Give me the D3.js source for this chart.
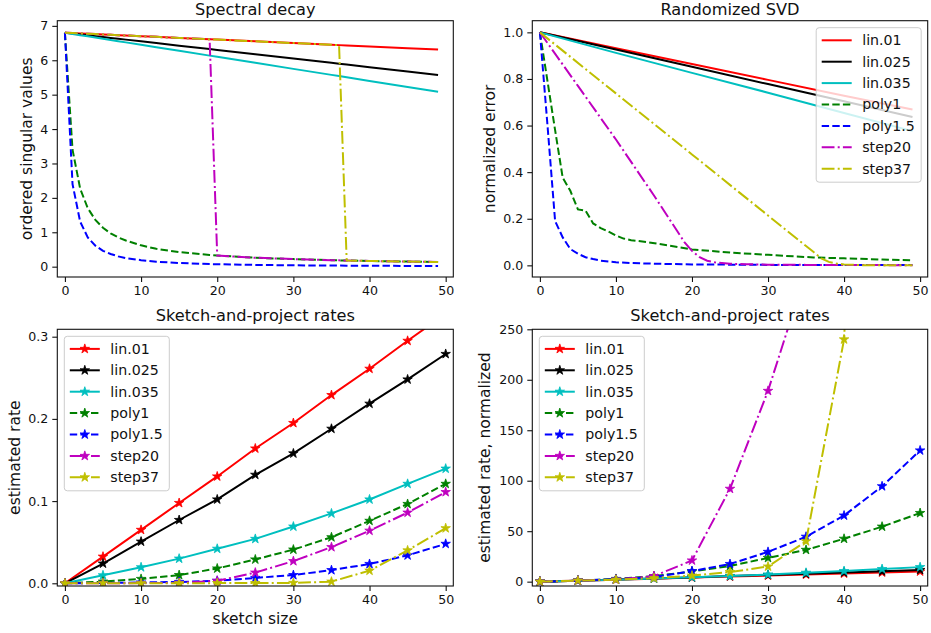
<!DOCTYPE html>
<html>
<head>
<meta charset="utf-8">
<title>Spectral decay / sketch-and-project rates</title>
<script src="https://cdn.jsdelivr.net/npm/d3@7"></script>
<style>
  body { margin: 0; background: #fff; }
  text { font-family: "DejaVu Sans", sans-serif; fill: #111; }
</style>
</head>
<body>
<div id="chart"></div>
<script>

// legend order of the seven spectra
let names = ["lin.01", "lin.025", "lin.035", "poly1", "poly1.5", "step20", "step37"];

// --- Spectral decay: singular values read at these indices
let specIdx    = [0, 1, 2, 3, 4, 5, 6, 7, 8, 10, 12, 15, 19, 20, 25, 30, 35, 36, 37, 40, 45, 49];
let specLin01  = [6.80, 6.79, 6.78, 6.77, 6.76, 6.75, 6.74, 6.73, 6.72, 6.70, 6.68, 6.65, 6.61, 6.60, 6.55, 6.50, 6.45, 6.44, 6.43, 6.40, 6.35, 6.31];
let specLin025 = [6.80, 6.775, 6.75, 6.725, 6.70, 6.675, 6.65, 6.625, 6.60, 6.55, 6.50, 6.425, 6.325, 6.30, 6.175, 6.05, 5.925, 5.90, 5.875, 5.80, 5.675, 5.575];
let specLin035 = [6.80, 6.765, 6.73, 6.695, 6.66, 6.625, 6.59, 6.555, 6.52, 6.45, 6.38, 6.275, 6.135, 6.10, 5.925, 5.75, 5.575, 5.54, 5.505, 5.40, 5.225, 5.085];
let specPoly1  = [6.80, 3.40, 2.27, 1.70, 1.36, 1.13, 0.97, 0.85, 0.76, 0.62, 0.52, 0.425, 0.34, 0.324, 0.26, 0.22, 0.19, 0.184, 0.179, 0.166, 0.148, 0.136];
let specPoly15 = [6.80, 2.40, 1.31, 0.85, 0.61, 0.46, 0.37, 0.30, 0.25, 0.19, 0.145, 0.106, 0.076, 0.071, 0.052, 0.039, 0.032, 0.031, 0.029, 0.026, 0.022, 0.019];
let specStep20 = [6.80, 6.79, 6.78, 6.77, 6.76, 6.75, 6.74, 6.73, 6.72, 6.70, 6.68, 6.65, 6.61, 0.324, 0.26, 0.22, 0.19, 0.184, 0.179, 0.166, 0.148, 0.136];
let specStep37 = [6.80, 6.79, 6.78, 6.77, 6.76, 6.75, 6.74, 6.73, 6.72, 6.70, 6.68, 6.65, 6.61, 6.60, 6.55, 6.50, 6.45, 6.44, 0.179, 0.166, 0.148, 0.136];

// --- Randomized SVD: normalized error
let rsvdLinX    = [0, 10, 20, 30, 40, 49];
let rsvdLin01   = [1.0, 0.932, 0.864, 0.796, 0.728, 0.669];
let rsvdLin025  = [1.0, 0.926, 0.852, 0.778, 0.704, 0.637];
let rsvdLin035  = [1.0, 0.912, 0.826, 0.741, 0.654, 0.576];
let rsvdPoly1X  = [0, 1, 2, 3, 4, 5, 6, 7, 8, 9, 10, 11, 12, 14, 17, 20, 25, 30, 36, 40, 45, 49];
let rsvdPoly1   = [1.0, 0.79, 0.58, 0.376, 0.32, 0.24, 0.235, 0.18, 0.16, 0.145, 0.128, 0.115, 0.108, 0.10, 0.085, 0.068, 0.055, 0.045, 0.034, 0.030, 0.025, 0.022];
let rsvdPoly15X = [0, 1, 2, 3, 4, 5, 6, 7, 8, 10, 12, 15, 20, 25, 30, 40, 49];
let rsvdPoly15  = [1.0, 0.60, 0.19, 0.12, 0.07, 0.05, 0.035, 0.027, 0.02, 0.013, 0.01, 0.007, 0.004, 0.003, 0.002, 0.001, 0.001];
let rsvdStep20X = [0, 5, 10, 15, 19, 20, 21, 22, 23, 25, 27, 30, 35, 40, 45, 49];
let rsvdStep20  = [1.0, 0.77, 0.54, 0.30, 0.10, 0.062, 0.035, 0.02, 0.013, 0.007, 0.005, 0.003, 0.002, 0.001, 0.001, 0.0];
let rsvdStep37X = [0, 10, 20, 30, 35, 36, 37, 38, 39, 40, 42, 45, 49];
let rsvdStep37  = [1.0, 0.738, 0.476, 0.214, 0.083, 0.057, 0.03, 0.015, 0.008, 0.004, 0.001, 0.0, 0.0];

// --- Sketch-and-project rates
let sketchSizes = [0, 5, 10, 15, 20, 25, 30, 35, 40, 45, 50];
let rateLin01   = [0, 0.0324, 0.065, 0.0977, 0.130, 0.164, 0.195, 0.229, 0.261, 0.295, 0.328];
let rateLin025  = [0, 0.024, 0.0507, 0.077, 0.102, 0.132, 0.158, 0.188, 0.2185, 0.248, 0.279];
let rateLin035  = [0, 0.0097, 0.0195, 0.030, 0.042, 0.054, 0.069, 0.085, 0.102, 0.121, 0.1395];
let ratePoly1   = [0, 0.002, 0.0053, 0.010, 0.018, 0.029, 0.041, 0.056, 0.076, 0.0965, 0.121];
let ratePoly15  = [0, 0.0004, 0.001, 0.0016, 0.003, 0.0065, 0.010, 0.016, 0.0235, 0.034, 0.048];
let rateStep20  = [0, 0.0001, 0.0002, 0.0005, 0.003, 0.013, 0.027, 0.044, 0.064, 0.086, 0.111];
let rateStep37  = [0, 0.0001, 0.0001, 0.0001, 0.0002, 0.0003, 0.0005, 0.002, 0.0154, 0.040, 0.067];

// --- same rates, normalized (steps run off the top)
let normLin01   = [0, 1, 2, 3, 4, 5, 6, 7, 8, 9.1, 10.1];
let normLin025  = [0, 1, 2.1, 3.2, 4.2, 5.5, 6.6, 7.8, 9.1, 10.3, 11.6];
let normLin035  = [0, 1, 2, 3.1, 4.3, 5.6, 7.1, 8.8, 10.5, 12.5, 14.4];
let normPoly1   = [0, 1, 2.7, 5.5, 10, 15.5, 23.5, 31.5, 42.5, 54.5, 68];
let normPoly15  = [0, 1, 2.5, 4.5, 10.5, 17.5, 29.5, 44.5, 65.5, 94.5, 130];
let normStep20  = [0, 1, 2, 5.5, 21, 92, 189, 307];
let normStep37  = [0, 1, 2, 3.5, 6, 9.5, 15, 40, 240, 1000];

// matplotlib-like styles
let colors = ["#ff0000", "#000000", "#00bfbf", "#008000", "#0000ff", "#bf00bf", "#bfbf00"];
let dashes = [null, null, null, "7.4,3.2", "7.4,3.2", "12.8,3.2,2,3.2", "12.8,3.2,2,3.2"];

let W = 931, H = 633;
let svg = d3.select("#chart")
    .append("svg")
    .attr("width", W)
    .attr("height", H);

let star = d3.symbol(d3.symbolStar, 28)();

function drawPanel(p) {
    let w = p.x1 - p.x0, h = p.y1 - p.y0;
    let g = svg.append("g").attr("transform", "translate(" + p.x0 + "," + p.y0 + ")");

    let x = d3.scaleLinear().domain([-1, 51]).range([0, w]);
    let y = d3.scaleLinear().domain(p.yDomain).range([h, 0]);

    g.append("clipPath").attr("id", "clip" + p.id)
        .append("rect").attr("width", w).attr("height", h);

    let line = d3.line().x(d => x(d[0])).y(d => y(d[1]));
    let plot = g.append("g").attr("clip-path", "url(#clip" + p.id + ")");

    p.series.forEach(function(s, i) {
        plot.append("path")
            .datum(s)
            .attr("d", line)
            .attr("fill", "none")
            .attr("stroke", colors[i])
            .attr("stroke-width", 2)
            .attr("stroke-dasharray", dashes[i]);
        if (p.markers) {
            plot.selectAll(null)
                .data(s)
                .enter()
                .append("path")
                .attr("d", star)
                .attr("transform", d => "translate(" + x(d[0]) + "," + y(d[1]) + ")")
                .attr("fill", colors[i])
                .attr("stroke", colors[i])
                .attr("stroke-width", 0.8);
        }
    });

    // axes
    let xAxis = d3.axisBottom(x).tickValues([0, 10, 20, 30, 40, 50])
        .tickSize(5).tickPadding(4).tickFormat(d3.format("d"));
    let yAxis = d3.axisLeft(y).tickValues(p.yTicks)
        .tickSize(5).tickPadding(4).tickFormat(p.yFormat);

    [g.append("g").attr("transform", "translate(0," + h + ")").call(xAxis),
     g.append("g").call(yAxis)].forEach(function(a) {
        a.select(".domain").remove();
        a.selectAll("line").attr("stroke", "#111").attr("stroke-width", 1.1);
        a.selectAll("text").attr("font-size", "12.6px").attr("fill", "#111")
            .attr("font-family", "DejaVu Sans, sans-serif");
    });

    g.append("rect")
        .attr("width", w).attr("height", h)
        .attr("fill", "none").attr("stroke", "#111").attr("stroke-width", 1.1);

    // title
    g.append("text")
        .attr("x", w / 2).attr("y", p.titleY - p.y0)
        .attr("text-anchor", "middle")
        .attr("font-size", "16.2px")
        .text(p.title);

    // y label
    let cx = p.ylabX - p.x0, cy = h / 2;
    g.append("text")
        .attr("transform", "rotate(-90," + cx + "," + cy + ")")
        .attr("x", cx).attr("y", cy).attr("dy", "0.35em")
        .attr("text-anchor", "middle")
        .attr("font-size", "15.5px")
        .text(p.ylabel);

    if (p.xlabel) {
        g.append("text")
            .attr("x", w / 2).attr("y", 624 - p.y0)
            .attr("text-anchor", "middle")
            .attr("font-size", "15.5px")
            .text(p.xlabel);
    }

    if (p.legend) {
        let lx = p.legend === "right" ? w - 6.5 - 105 : 7;
        let lg = g.append("g").attr("transform", "translate(" + lx + ",7)");
        lg.append("rect")
            .attr("width", 105).attr("height", 154.5)
            .attr("rx", 3)
            .attr("fill", "#fff").attr("fill-opacity", 0.8)
            .attr("stroke", "#ccc").attr("stroke-width", 1);
        names.forEach(function(n, i) {
            let yy = 12.6 + i * 21.4;
            lg.append("line")
                .attr("x1", 5.5).attr("x2", 35.5)
                .attr("y1", yy).attr("y2", yy)
                .attr("stroke", colors[i]).attr("stroke-width", 2)
                .attr("stroke-dasharray", dashes[i]);
            if (p.markers) {
                lg.append("path").attr("d", star)
                    .attr("transform", "translate(20.5," + yy + ")")
                    .attr("fill", colors[i]).attr("stroke", colors[i]).attr("stroke-width", 0.8);
            }
            lg.append("text")
                .attr("x", 46).attr("y", yy).attr("dy", "0.35em")
                .attr("font-size", "14.2px")
                .text(n);
        });
    }
}

let specSeries = [specLin01, specLin025, specLin035, specPoly1, specPoly15, specStep20, specStep37]
    .map(v => d3.zip(specIdx, v));
let rsvdSeries = [
    d3.zip(rsvdLinX, rsvdLin01), d3.zip(rsvdLinX, rsvdLin025), d3.zip(rsvdLinX, rsvdLin035),
    d3.zip(rsvdPoly1X, rsvdPoly1), d3.zip(rsvdPoly15X, rsvdPoly15),
    d3.zip(rsvdStep20X, rsvdStep20), d3.zip(rsvdStep37X, rsvdStep37)];
let rateSeries = [rateLin01, rateLin025, rateLin035, ratePoly1, ratePoly15, rateStep20, rateStep37]
    .map(v => d3.zip(sketchSizes, v));
let normSeries = [normLin01, normLin025, normLin035, normPoly1, normPoly15, normStep20, normStep37]
    .map(v => d3.zip(sketchSizes, v));

drawPanel({id: 1, x0: 57.3, x1: 453.3, y0: 20.7, y1: 277, yDomain: [-0.3, 7.15],
    yTicks: [0, 1, 2, 3, 4, 5, 6, 7], yFormat: d3.format("d"),
    title: "Spectral decay", titleY: 15.3, ylabel: "ordered singular values", ylabX: 26.7,
    series: specSeries, markers: false, legend: null});

drawPanel({id: 2, x0: 532.3, x1: 927.7, y0: 20.7, y1: 277, yDomain: [-0.05, 1.05],
    yTicks: [0, 0.2, 0.4, 0.6, 0.8, 1.0], yFormat: d3.format(".1f"),
    title: "Randomized SVD", titleY: 15.3, ylabel: "normalized error", ylabX: 489.5,
    series: rsvdSeries, markers: false, legend: "right"});

drawPanel({id: 3, x0: 57.3, x1: 453.3, y0: 329.3, y1: 586, yDomain: [-0.0033, 0.309],
    yTicks: [0, 0.1, 0.2, 0.3], yFormat: d3.format(".1f"),
    title: "Sketch-and-project rates", titleY: 321, ylabel: "estimated rate", ylabX: 14.2,
    xlabel: "sketch size", series: rateSeries, markers: true, legend: "left"});

drawPanel({id: 4, x0: 532.3, x1: 927.7, y0: 329.3, y1: 586, yDomain: [-4.3, 250],
    yTicks: [0, 50, 100, 150, 200, 250], yFormat: d3.format("d"),
    title: "Sketch-and-project rates", titleY: 321, ylabel: "estimated rate, normalized", ylabX: 484.7,
    xlabel: "sketch size", series: normSeries, markers: true, legend: "left"});

</script>
</body>
</html>
